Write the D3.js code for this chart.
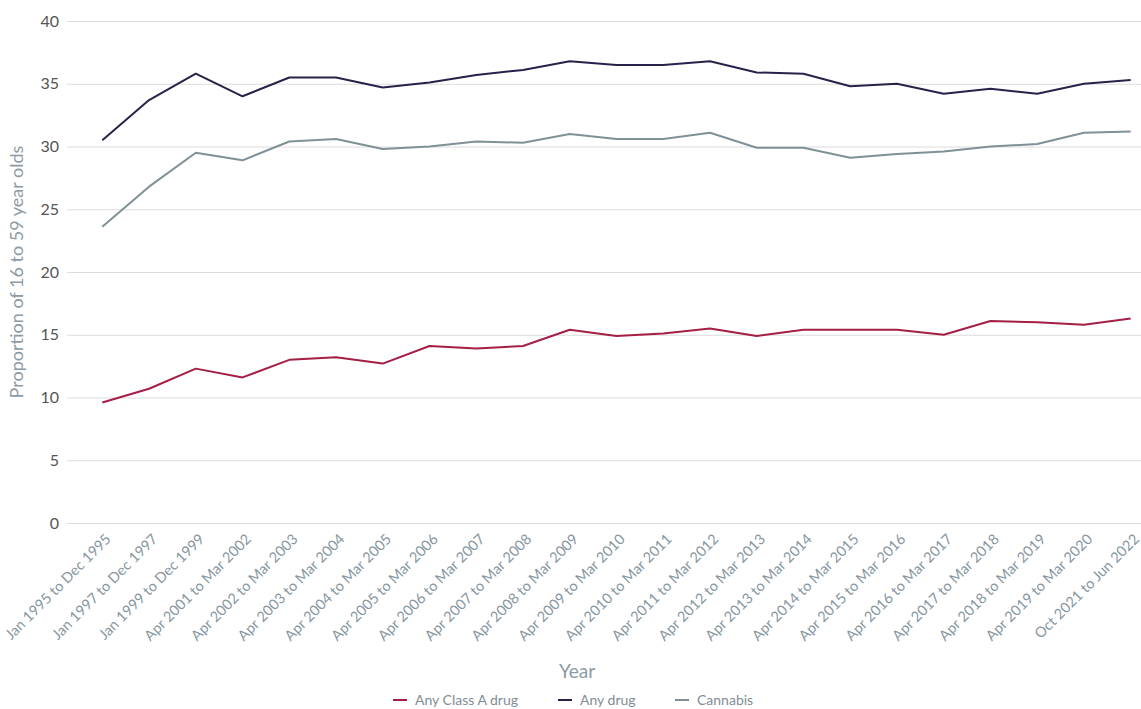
<!DOCTYPE html>
<html>
<head>
<meta charset="utf-8">
<script src="https://cdn.jsdelivr.net/npm/d3@7"></script>
<style>
  body { margin: 0; background: #fff; }
  svg { display: block; font-family: Lato, "Open Sans", sans-serif; }
</style>
</head>
<body>
<svg id="chart" width="1141" height="709"></svg>
<script>
var periods = [
    "Jan 1995 to Dec 1995", "Jan 1997 to Dec 1997", "Jan 1999 to Dec 1999",
    "Apr 2001 to Mar 2002", "Apr 2002 to Mar 2003", "Apr 2003 to Mar 2004",
    "Apr 2004 to Mar 2005", "Apr 2005 to Mar 2006", "Apr 2006 to Mar 2007",
    "Apr 2007 to Mar 2008", "Apr 2008 to Mar 2009", "Apr 2009 to Mar 2010",
    "Apr 2010 to Mar 2011", "Apr 2011 to Mar 2012", "Apr 2012 to Mar 2013",
    "Apr 2013 to Mar 2014", "Apr 2014 to Mar 2015", "Apr 2015 to Mar 2016",
    "Apr 2016 to Mar 2017", "Apr 2017 to Mar 2018", "Apr 2018 to Mar 2019",
    "Apr 2019 to Mar 2020", "Oct 2021 to Jun 2022"
];

var class_a = [9.6, 10.7, 12.3, 11.6, 13.0, 13.2, 12.7, 14.1, 13.9, 14.1, 15.4, 14.9,
    15.1, 15.5, 14.9, 15.4, 15.4, 15.4, 15.0, 16.1, 16.0, 15.8, 16.3];
var any_drug = [30.5, 33.7, 35.8, 34.0, 35.5, 35.5, 34.7, 35.1, 35.7, 36.1, 36.8, 36.5,
    36.5, 36.8, 35.9, 35.8, 34.8, 35.0, 34.2, 34.6, 34.2, 35.0, 35.3];
var cannabis = [23.6, 26.8, 29.5, 28.9, 30.4, 30.6, 29.8, 30.0, 30.4, 30.3, 31.0, 30.6,
    30.6, 31.1, 29.9, 29.9, 29.1, 29.4, 29.6, 30.0, 30.2, 31.1, 31.2];

var series_names = ["Any Class A drug", "Any drug", "Cannabis"];
var y_ticks = [0, 5, 10, 15, 20, 25, 30, 35, 40];

var colors = { "Any Class A drug": "#a51f45", "Any drug": "#28224a", "Cannabis": "#7f9197" };

var svg = d3.select("#chart");
var margin = { left: 67, right: 0, top: 21, bottom: 186 };
var width = 1141 - margin.left - margin.right;
var height = 709 - margin.top - margin.bottom;

var g = svg.append("g")
    .attr("transform", "translate(" + margin.left + "," + margin.top + ")");

var x = d3.scalePoint()
    .domain(periods)
    .range([102.3 - margin.left, 1130.7 - margin.left]);

var y = d3.scaleLinear()
    .domain([0, 40])
    .range([height, 0]);

// gridlines + y labels
var yAxis = g.append("g")
    .call(d3.axisLeft(y).tickValues(y_ticks).tickSize(-width).tickPadding(8));
yAxis.select(".domain").remove();
yAxis.selectAll(".tick line").attr("stroke", "#dcdcdc").attr("stroke-width", 1);
yAxis.selectAll(".tick text")
    .attr("x", -8)
    .style("font-size", "16px")
    .style("font-family", "Lato, sans-serif")
    .attr("fill", "#555");

// x labels, rotated
var xAxis = g.append("g")
    .attr("transform", "translate(0," + height + ")")
    .call(d3.axisBottom(x).tickSize(0));
xAxis.select(".domain").remove();
xAxis.selectAll(".tick text")
    .attr("x", 0).attr("y", 0).attr("dy", 0)
    .attr("transform", "translate(9,17) rotate(-45)")
    .style("text-anchor", "end")
    .style("font-size", "14.5px")
    .style("font-family", "Lato, sans-serif")
    .attr("fill", "#8797a1");

// lines
var line = d3.line()
    .x(function (d, i) { return x(periods[i]); })
    .y(function (d) { return y(d); });

var all_series = [class_a, any_drug, cannabis];
all_series.forEach(function (s, i) {
    g.append("path")
        .datum(s)
        .attr("fill", "none")
        .attr("stroke", colors[series_names[i]])
        .attr("stroke-width", 2)
        .attr("stroke-linejoin", "round")
        .attr("d", line);
});

// axis titles
svg.append("text")
    .attr("transform", "translate(23," + (margin.top + height / 2) + ") rotate(-90)")
    .style("text-anchor", "middle")
    .style("font-size", "18px")
    .attr("fill", "#8c9ba5")
    .text("Proportion of 16 to 59 year olds");

svg.append("text")
    .attr("x", 577)
    .attr("y", 678)
    .style("text-anchor", "middle")
    .style("font-size", "19px")
    .attr("fill", "#8c9aa3")
    .text("Year");

// legend
var legend_x = [393, 558, 675];
var legend = svg.selectAll(".legend")
    .data(series_names)
    .enter()
    .append("g")
    .attr("class", "legend")
    .attr("transform", function (d, i) { return "translate(" + legend_x[i] + ",700)"; });

legend.append("line")
    .attr("x1", 0).attr("x2", 14)
    .attr("stroke", function (d) { return colors[d]; })
    .attr("stroke-width", 2);

legend.append("text")
    .attr("x", 22)
    .attr("y", 5)
    .style("font-size", "14px")
    .attr("fill", "#7f8d97")
    .text(function (d) { return d; });
</script>
</body>
</html>
